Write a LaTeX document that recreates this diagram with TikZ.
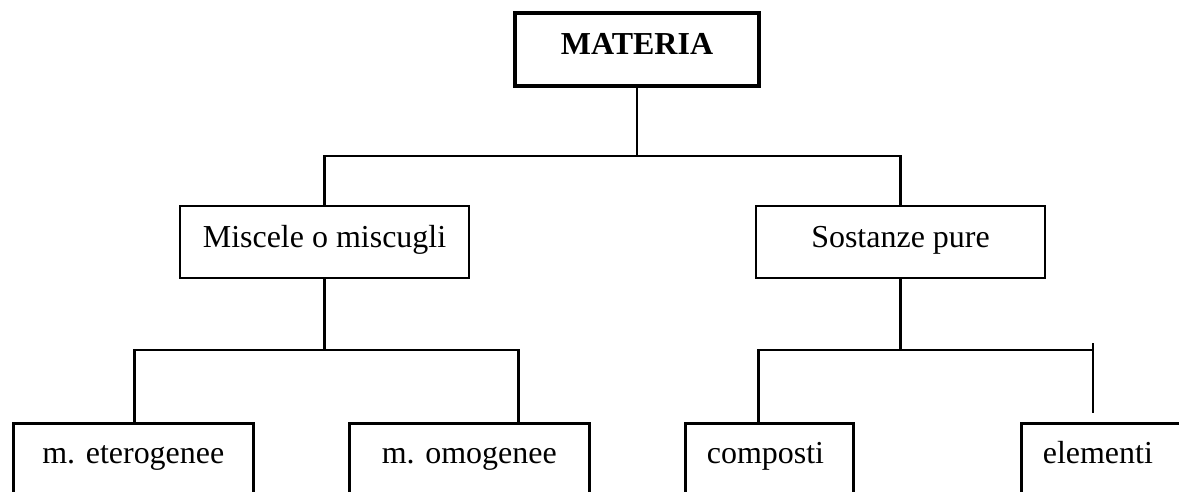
\documentclass[tikz,border=0pt]{standalone}
\usepackage{fontspec}
\setmainfont{Liberation Serif}
\usetikzlibrary{positioning}

\begin{document}
\begin{tikzpicture}[
    x=0.02cm,y=-0.02cm,
    line width=1.5pt,
    font=\fontsize{18.2}{22}\selectfont,
    root/.style={draw,line width=2.3pt,minimum width=4.88cm,minimum height=1.46cm,inner sep=0pt,text height=12pt,text depth=6pt,font=\fontsize{18.2}{22}\selectfont\bfseries},
    group/.style={draw,minimum width=5.78cm,minimum height=1.44cm,inner sep=0pt,text height=12pt,text depth=6pt},
    leaf/.style={draw,anchor=north west,inner ysep=0pt,text height=0.8cm,text depth=2cm,minimum width=4.8cm},
    leftleaf/.style={leaf,minimum width=0pt,align=left,inner xsep=0.43cm}
  ]
    % Page frame (bottom boxes run past the edge)
    \useasboundingbox (0,0) rectangle (1179,491);
    \clip (0,0) rectangle (1179,491);

    % Level 0
    \node[root] (materia) at (637,49.5) {MATERIA};

    % Level 1
    \node[group] (miscele) at (324.5,242) {Miscele o miscugli};
    \node[group] (sostanze) at (900.5,242) {Sostanze pure};

    % Level 2
    \node[leaf] (eter) at (12,422) {m. eterogenee};
    \node[leaf] (omog) at (348,422) {m. omogenee};
    \node[leftleaf,text width=2.5cm] (compo) at (684,422) {composti};
    \node[leftleaf,text width=2.74cm] (elem) at (1020,422) {elementi};

    % Joints
    \coordinate (hub1) at (637,156);
    \coordinate (hub2) at (324.5,350);
    \coordinate (hub3) at (900.5,350);
    \coordinate (ticktop) at (1093,343);
    \coordinate (tickbot) at (1093,413);

    % Connections
    \draw (materia.south) -- (hub1);
    \draw (miscele.north) |- (hub1) -| (sostanze.north);
    \draw (miscele.south) -- (hub2);
    \draw ([xshift=0.02cm]eter.north) |- (hub2) -| ([xshift=0.98cm]omog.north);
    \draw (sostanze.south) -- (hub3);
    \draw ([xshift=-0.22cm]compo.north) |- (hub3) -- (hub3 -| ticktop);
    \draw (ticktop) -- (tickbot);
  \end{tikzpicture}
\end{document}
